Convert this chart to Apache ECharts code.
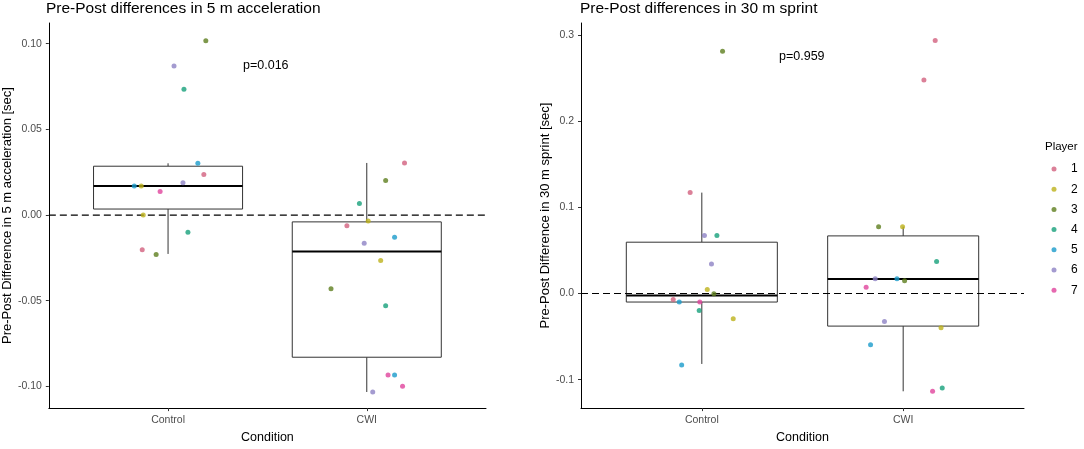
<!DOCTYPE html>
<html>
<head>
<meta charset="utf-8">
<script src="https://cdn.jsdelivr.net/npm/echarts@6/dist/echarts.min.js"></script>
<style>
html,body{margin:0;padding:0;background:#fff;}
#chart{width:1084px;height:449px;}
</style>
</head>
<body>
<div id="chart"></div>
<script>
// ---------- data ----------
const conditions = ['Control', 'CWI'];
const players = ['1', '2', '3', '4', '5', '6', '7'];
const playerColors = ['#D2607E', '#BDB21A', '#5E7E1E', '#16A07A', '#1A9BCB', '#8D82C4', '#E0449C'];

const accelTicks = [-0.10, -0.05, 0.00, 0.05, 0.10];
const sprintTicks = [-0.1, 0.0, 0.1, 0.2, 0.3];

// box stats: [conditionIndex(1-based), lowerWhisker, q1, median, q3, upperWhisker]
const accelBoxes = [
  [1, -0.0227, 0.0035, 0.0169, 0.0285, 0.0302],
  [2, -0.1033, -0.0830, -0.0213, -0.0040, 0.0304]
];
const sprintBoxes = [
  [1, -0.0817, -0.0099, -0.0023, 0.0595, 0.1170],
  [2, -0.1134, -0.0378, 0.0168, 0.0668, 0.0775]
];

// jittered points per player: [x (condition + jitter), value]
const accelPoints = {
  '1': [[1.18, 0.0236], [0.87, -0.0202], [2.19, 0.0304], [1.90, -0.0063]],
  '2': [[0.865, 0.0169], [0.875, 0.0000], [2.007, -0.0035], [2.07, -0.0265]],
  '3': [[1.19, 0.1017], [0.94, -0.0230], [2.095, 0.0202], [1.82, -0.0430]],
  '4': [[1.08, 0.0734], [1.10, -0.0100], [1.963, 0.0067], [2.095, -0.0530]],
  '5': [[1.15, 0.0302], [0.83, 0.0169], [2.14, -0.0129], [2.14, -0.0934]],
  '6': [[1.03, 0.0870], [1.075, 0.0188], [1.987, -0.0165], [2.03, -0.1033]],
  '7': [[0.96, 0.0138], [2.107, -0.0934], [2.18, -0.0999]]
};
const sprintPoints = {
  '1': [[0.942, 0.1172], [0.858, -0.0069], [2.159, 0.2935], [2.103, 0.2477]],
  '2': [[1.027, 0.0046], [1.156, -0.0294], [1.997, 0.0775], [2.188, -0.0397]],
  '3': [[1.103, 0.2810], [1.06, -0.0003], [1.878, 0.0775], [2.007, 0.0149]],
  '4': [[1.075, 0.0672], [0.987, -0.0198], [2.166, 0.0370], [2.194, -0.1096]],
  '5': [[0.888, -0.0099], [0.90, -0.0828], [1.969, 0.0172], [1.838, -0.0595]],
  '6': [[1.013, 0.0672], [1.048, 0.0343], [1.861, 0.0172], [1.907, -0.0324]],
  '7': [[0.99, -0.0099], [1.816, 0.0072], [2.146, -0.1134]]
};

const pValues = ['p=0.016', 'p=0.959'];
const refValue = 0;
const xRange = [0.4, 2.6];
const boxWidth = 0.75;

// ---------- chart ----------
const FONT = 'Liberation Sans, Arial, sans-serif';
const chart = echarts.init(document.getElementById('chart'));

function xAxisDef(gridIndex) {
  return {
    type: 'value', gridIndex, min: xRange[0], max: xRange[1],
    name: 'Condition', nameLocation: 'middle', nameGap: 20,
    nameTextStyle: { color: '#000', fontSize: 12.5, fontFamily: FONT },
    axisLine: { show: true, onZero: false, lineStyle: { color: '#000', width: 1 } },
    axisTick: { show: true, length: 3, customValues: [1, 2], lineStyle: { color: '#333' } },
    axisLabel: {
      customValues: [1, 2], margin: 7, color: '#4D4D4D', fontSize: 10.5, fontFamily: FONT,
      formatter: v => conditions[Math.round(v) - 1]
    },
    splitLine: { show: false }
  };
}
function yAxisDef(gridIndex, ticks, lo, hi, name, gap, dec) {
  return {
    type: 'value', gridIndex, min: lo, max: hi,
    name, nameLocation: 'middle', nameGap: gap,
    nameTextStyle: { color: '#000', fontSize: 13, fontFamily: FONT },
    axisLine: { show: true, onZero: false, lineStyle: { color: '#000', width: 1 } },
    axisTick: { show: true, length: 3, customValues: ticks, lineStyle: { color: '#333' } },
    axisLabel: {
      customValues: ticks, margin: 7, color: '#4D4D4D', fontSize: 10.5, fontFamily: FONT,
      formatter: v => v.toFixed(dec)
    },
    splitLine: { show: false }
  };
}

function boxSeries(boxes, idx) {
  return {
    type: 'custom', xAxisIndex: idx, yAxisIndex: idx, z: 1,
    encode: { x: 0, y: [1, 2, 3, 4, 5] },
    data: boxes,
    renderItem: (params, api) => {
      const x = api.value(0);
      const lo = api.coord([x, api.value(1)]);
      const q1 = api.coord([x, api.value(2)]);
      const md = api.coord([x, api.value(3)]);
      const q3 = api.coord([x, api.value(4)]);
      const hi = api.coord([x, api.value(5)]);
      const hw = api.size([boxWidth, 0])[0] / 2;
      const st = { stroke: '#333', lineWidth: 1, fill: null };
      return {
        type: 'group',
        children: [
          { type: 'line', shape: { x1: hi[0], y1: hi[1], x2: q3[0], y2: q3[1] }, style: st },
          { type: 'line', shape: { x1: q1[0], y1: q1[1], x2: lo[0], y2: lo[1] }, style: st },
          { type: 'rect', shape: { x: q3[0] - hw, y: q3[1], width: 2 * hw, height: q1[1] - q3[1] },
            style: { stroke: '#333', lineWidth: 1, fill: '#fff' } },
          { type: 'line', shape: { x1: md[0] - hw, y1: md[1], x2: md[0] + hw, y2: md[1] },
            style: { stroke: '#000', lineWidth: 2 } }
        ]
      };
    }
  };
}
function refSeries(idx) {
  return {
    type: 'line', xAxisIndex: idx, yAxisIndex: idx, z: 2, symbol: 'none', silent: true,
    data: [[xRange[0], refValue], [xRange[1], refValue]],
    lineStyle: { color: '#000', width: 1.2, type: [7, 4] }
  };
}
function pointSeries(points, idx) {
  return players.map((p, i) => ({
    type: 'scatter', name: p, xAxisIndex: idx, yAxisIndex: idx, z: 3,
    symbol: 'circle', symbolSize: 5,
    itemStyle: { color: playerColors[i] },
    data: points[p]
  }));
}

const option = {
  backgroundColor: '#fff',
  animation: false,
  title: [
    { text: 'Pre-Post differences in 5 m acceleration', left: 46, top: 1, padding: 0,
      textStyle: { fontSize: 15.5, fontWeight: 'normal', color: '#000', fontFamily: FONT } },
    { text: 'Pre-Post differences in 30 m sprint', left: 580, top: 1, padding: 0,
      textStyle: { fontSize: 15.5, fontWeight: 'normal', color: '#000', fontFamily: FONT } },
    { text: pValues[0], left: 243, top: 59, padding: 0,
      textStyle: { fontSize: 12.5, fontWeight: 'normal', color: '#000', fontFamily: FONT } },
    { text: pValues[1], left: 779, top: 50, padding: 0,
      textStyle: { fontSize: 12.5, fontWeight: 'normal', color: '#000', fontFamily: FONT } },
    { text: 'Player', left: 1045, top: 141, padding: 0,
      textStyle: { fontSize: 11.5, fontWeight: 'normal', color: '#000', fontFamily: FONT } }
  ],
  legend: {
    data: players, orient: 'vertical', left: 1051.5, top: 162, padding: 0,
    itemWidth: 18, itemHeight: 5, itemGap: 6.2, icon: 'circle',
    textStyle: { fontSize: 12, color: '#000', fontFamily: FONT, lineHeight: 14, padding: [0, 0, 0, 3] },
    selectedMode: false
  },
  grid: [
    { left: 47, top: 23, width: 439, height: 390 },
    { left: 581, top: 23, width: 443, height: 390 }
  ],
  xAxis: [xAxisDef(0), xAxisDef(1)],
  yAxis: [
    yAxisDef(0, accelTicks, -0.1127, 0.1121, 'Pre-Post Difference in 5 m acceleration [sec]', 33, 2),
    yAxisDef(1, sprintTicks, -0.1329, 0.3137, 'Pre-Post Difference in 30 m sprint [sec]', 28, 1)
  ],
  series: [
    boxSeries(accelBoxes, 0), refSeries(0), ...pointSeries(accelPoints, 0),
    boxSeries(sprintBoxes, 1), refSeries(1), ...pointSeries(sprintPoints, 1)
  ]
};
chart.setOption(option);
</script>
</body>
</html>
